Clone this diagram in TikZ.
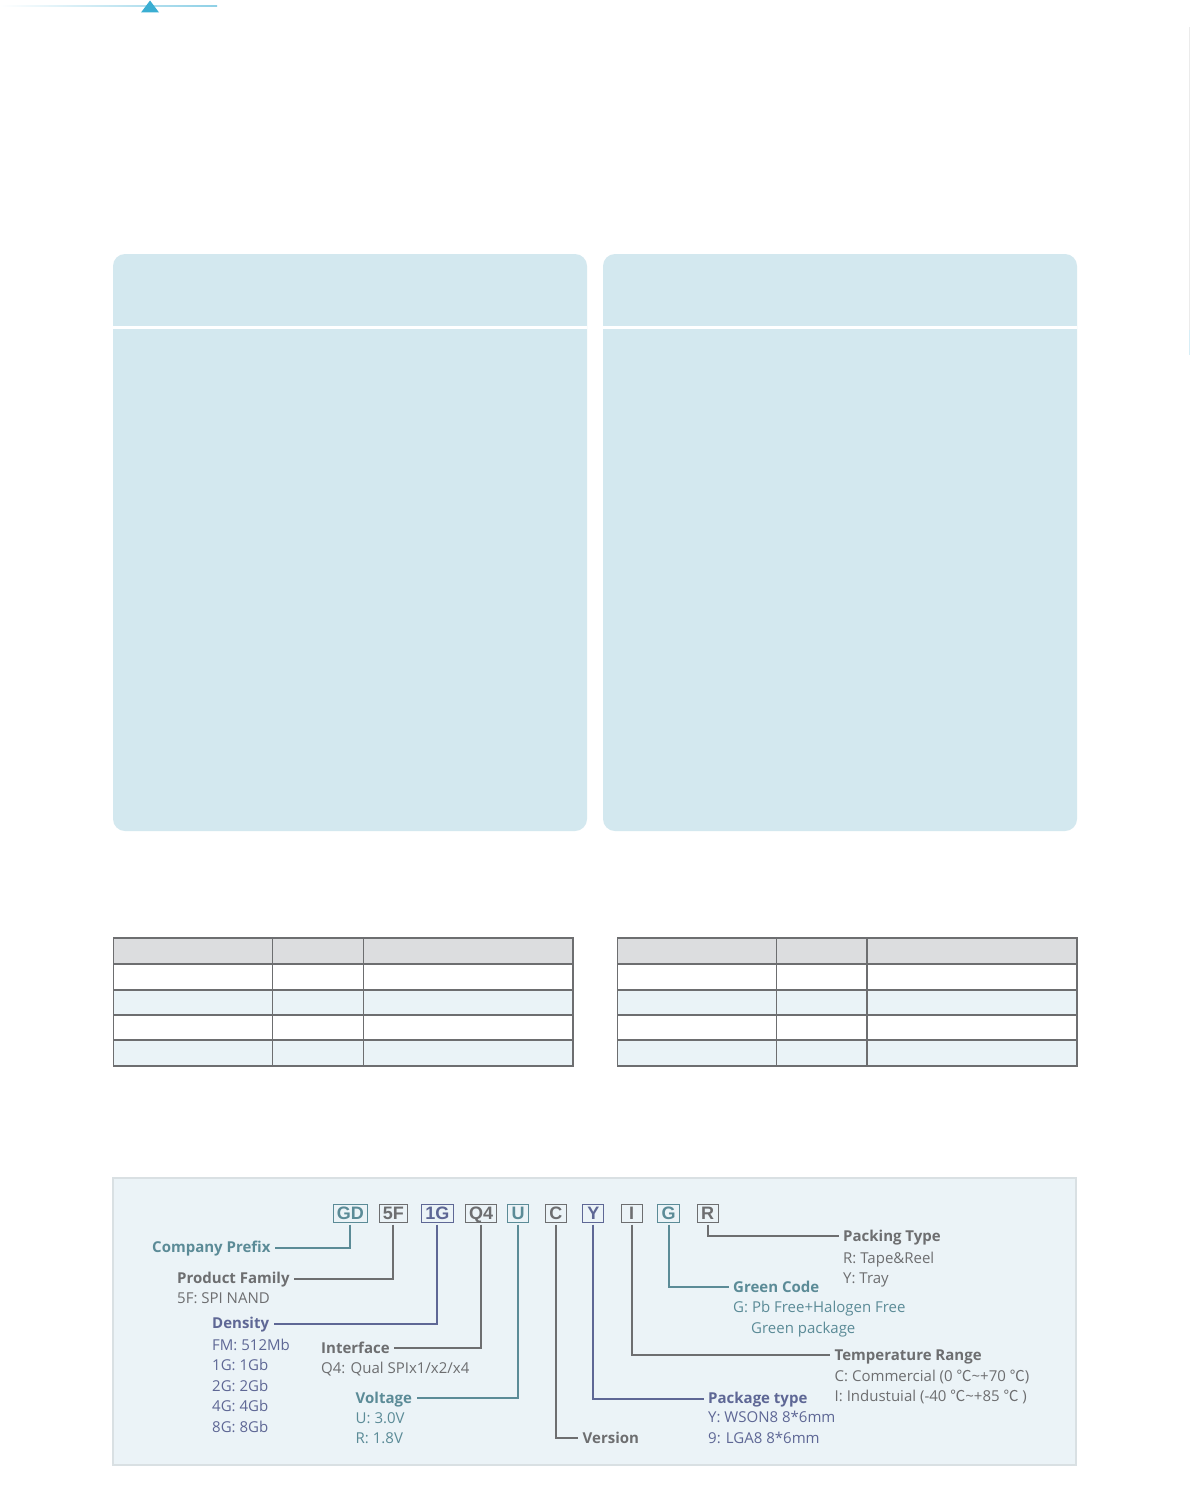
\documentclass[tikz,border=0pt]{standalone}
\usepackage{fontspec}
\setmainfont{Open Sans}
\newfontfamily\boxfont{Liberation Sans}
\newfontfamily\cjkdeg{Noto Sans CJK SC}
\newcommand{\degC}{{\cjkdeg ℃}}
\definecolor{cteal}{HTML}{5B8B97}
\definecolor{cgray}{HTML}{6D6E70}
\definecolor{cblue}{HTML}{5E6795}
\definecolor{panelc}{HTML}{D3E8EF}
\definecolor{bgbox}{HTML}{EBF3F7}
\definecolor{bgline}{HTML}{D9E0E3}
\definecolor{theadc}{HTML}{DCDDDF}
\definecolor{tlight}{HTML}{EAF3F7}
\definecolor{tline}{HTML}{6D6E70}
\definecolor{topline}{HTML}{8ED0E6}
\definecolor{toptri}{HTML}{3AAED2}
\newcommand{\spectable}[4]{%
  \fill[theadc] (#1,938) rectangle (#4,964);
  \fill[tlight] (#1,990) rectangle (#4,1015);
  \fill[tlight] (#1,1040) rectangle (#4,1066);
  \foreach \yy in {964,990,1015,1040} \draw[tline,line width=1.6pt] (#1,\yy) -- (#4,\yy);
  \draw[tline,line width=1.6pt] (#2,938) -- (#2,1066);
  \draw[tline,line width=1.6pt] (#3,938) -- (#3,1066);
  \draw[tline,line width=1.6pt] (#1,938) rectangle (#4,1066);
}
\tikzset{
  codebox/.style={draw, line width=1pt, font=\boxfont\bfseries\fontsize{18}{18}\selectfont,
    text height=13pt, text depth=0pt, inner xsep=3.6pt, inner ysep=2.5pt,
    minimum width=21pt, outer ysep=2.5pt},
  head/.style={font=\bfseries\fontsize{15}{20.5}\selectfont, inner xsep=4.5pt, inner ysep=2pt,
    text height=10.5pt, text depth=0pt},
  detail/.style={font=\fontsize{15}{20.5}\selectfont, inner sep=2pt, align=left, anchor=base west},
  conn/.style={line width=2pt}
}
\begin{document}
\begin{tikzpicture}[x=1pt,y=-1pt]
\useasboundingbox (0,0) rectangle (1191,1490);
\fill[white] (0,0) rectangle (1191,1490);
% top decoration
\shade[left color=white, right color=topline] (0,5.4) rectangle (217,6.6);
\fill[toptri] (141,12.5) -- (150,0.5) -- (159,12.5) -- cycle;
\fill[black!8] (1189.3,27) rectangle (1190.3,340);
\fill[topline!35] (1189.3,330) rectangle (1190.3,355);
% panels
\fill[panelc, rounded corners=12pt] (113,254) rectangle (587,831);
\fill[white] (113,326.3) rectangle (587,329.3);
\fill[panelc, rounded corners=12pt] (603,254) rectangle (1077,831);
\fill[white] (603,326.3) rectangle (1077,329.3);
% tables
\spectable{113.3}{272.3}{363.3}{573}
\spectable{617.3}{776.3}{866.7}{1076.7}
% naming box
\draw[bgline, fill=bgbox, line width=2pt] (112.7,1178) rectangle (1076,1465);

% code boxes
\node[codebox, cteal] (gd) at (350.3,1213) {GD};
\node[codebox, cgray] (f5) at (393.3,1213) {5F};
\node[codebox, cblue] (g1) at (437.4,1213) {1G};
\node[codebox, cgray] (q4) at (481,1213) {Q4};
\node[codebox, cteal] (u) at (518.2,1213) {U};
\node[codebox, cgray] (c) at (555.9,1213) {C};
\node[codebox, cblue] (y) at (593.4,1213) {Y};
\node[codebox, cgray] (i) at (631.5,1213) {I};
\node[codebox, cteal] (g) at (668.5,1213) {G};
\node[codebox, cgray] (r) at (707.5,1213) {R};

% left labels
\node[head, cteal, anchor=west] (cp) at (147.5,1247.5) {Company Prefix};
\node[head, cgray, anchor=west] (pf) at (172.5,1278.5) {Product Family};
\node[detail, cgray] (pfd) at (175,1303) {5F: SPI NAND};
\node[head, cblue, anchor=west] (den) at (207.5,1323.5) {Density};
\node[detail, cblue] (dend) at (210,1432) {FM: 512Mb\\1G: 1Gb\\2G: 2Gb\\4G: 4Gb\\8G: 8Gb};
\node[head, cgray, anchor=west] (itf) at (316.5,1348.3) {Interface};
\node[detail, cgray] (itfd) at (319,1373.5) {Q4: Qual SPIx1/x2/x4};
\node[head, cteal, anchor=west] (vol) at (351,1398) {Voltage};
\node[detail, cteal] (vold) at (353.5,1443.5) {U: 3.0V\\R: 1.8V};
% right labels
\node[head, cgray, anchor=west] (ver) at (578,1438) {Version};
\node[head, cblue, anchor=west] (pkg) at (703.5,1398.5) {Package type};
\node[detail, cblue] (pkgd) at (706,1443.3) {Y: WSON8 8*6mm\\9: LGA8 8*6mm};
\node[head, cgray, anchor=west] (tmp) at (830,1355.2) {Temperature Range};
\node[detail, cgray] (tmpd) at (832.5,1401.7) {C: Commercial (0 \degC\textasciitilde+70 \degC)\\I: Industuial (-40 \degC\textasciitilde+85 \degC\ )};
\node[head, cteal, anchor=west] (grn) at (728.5,1287) {Green Code};
\node[detail, cteal] (grnd) at (731,1333) {G: Pb Free+Halogen Free\\\hspace*{18pt}Green package};
\node[head, cgray, anchor=west] (pck) at (838.5,1235.8) {Packing Type};
\node[detail, cgray] (pckd) at (841,1283.5) {R: Tape\&Reel\\Y: Tray};

% connectors
\draw[conn, cteal] (gd.south) |- (cp.east);
\draw[conn, cgray] (f5.south) |- (pf.east);
\draw[conn, cblue] (g1.south) |- (den.east);
\draw[conn, cgray] (q4.south) |- (itf.east);
\draw[conn, cteal] (u.south) |- (vol.east);
\draw[conn, cgray] (c.south) |- (ver.west);
\draw[conn, cblue] (y.south) |- (pkg.west);
\draw[conn, cgray] (i.south) |- (tmp.west);
\draw[conn, cteal] (g.south) |- (grn.west);
\draw[conn, cgray] (r.south) |- (pck.west);
\end{tikzpicture}
\end{document}
